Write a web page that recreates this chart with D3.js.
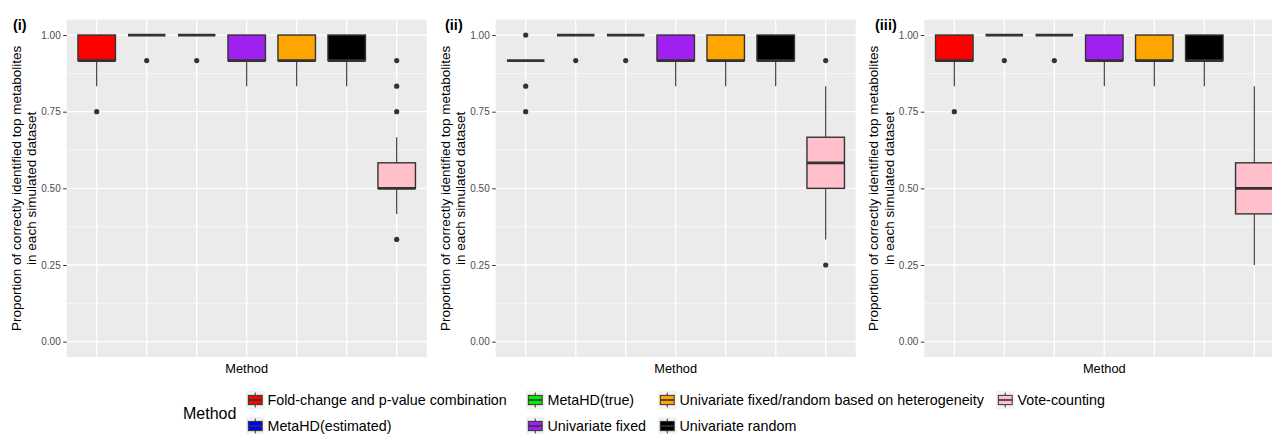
<!DOCTYPE html>
<html>
<head>
<meta charset="utf-8">
<script src="https://cdn.jsdelivr.net/npm/d3@7"></script>
<style>
  body { margin: 0; background: #fff; }
  svg { display: block; font-family: "Liberation Sans", Arial, sans-serif; }
</style>
</head>
<body>
<div id="wrapper"></div>
<script>
// methods in legend order
const methods = [
  "Fold-change and p-value combination",
  "MetaHD(estimated)",
  "MetaHD(true)",
  "Univariate fixed",
  "Univariate fixed/random based on heterogeneity",
  "Univariate random",
  "Vote-counting"
]
const methodColors = ["#FF0000", "#0000FF", "#00EE00", "#A020F0", "#FFA500", "#000000", "#FFC0CB"]

const panelLabels = ["(i)", "(ii)", "(iii)"]
const yTicks = [0, 0.25, 0.5, 0.75, 1]

// box stats per method: [lower whisker, q1, median, q3, upper whisker]
const statsI = [
  [0.8333, 0.9167, 0.9167, 1, 1],
  [1, 1, 1, 1, 1],
  [1, 1, 1, 1, 1],
  [0.8333, 0.9167, 0.9167, 1, 1],
  [0.8333, 0.9167, 0.9167, 1, 1],
  [0.8333, 0.9167, 0.9167, 1, 1],
  [0.4167, 0.5, 0.5, 0.5833, 0.6667]
]
const outliersI = [[0.75], [0.9167], [0.9167], [], [], [], [0.9167, 0.8333, 0.75, 0.3333]]

const statsII = [
  [0.9167, 0.9167, 0.9167, 0.9167, 0.9167],
  [1, 1, 1, 1, 1],
  [1, 1, 1, 1, 1],
  [0.8333, 0.9167, 0.9167, 1, 1],
  [0.8333, 0.9167, 0.9167, 1, 1],
  [0.8333, 0.9167, 0.9167, 1, 1],
  [0.3333, 0.5, 0.5833, 0.6667, 0.8333]
]
const outliersII = [[1, 0.8333, 0.75], [0.9167], [0.9167], [], [], [], [0.9167, 0.25]]

const statsIII = [
  [0.8333, 0.9167, 0.9167, 1, 1],
  [1, 1, 1, 1, 1],
  [1, 1, 1, 1, 1],
  [0.8333, 0.9167, 0.9167, 1, 1],
  [0.8333, 0.9167, 0.9167, 1, 1],
  [0.8333, 0.9167, 0.9167, 1, 1],
  [0.25, 0.4167, 0.5, 0.5833, 0.8333]
]
const outliersIII = [[0.75], [0.9167], [0.9167], [], [], [], []]

function drawChart() {
  const width = 1272, height = 434
  const svg = d3.select("#wrapper").append("svg")
    .attr("width", width)
    .attr("height", height)

  const panelLefts = [66.7, 495.7, 924.3]
  const labelX = [13, 445, 875]
  const panelW = 360
  const top = 19.7, bottom = 357

  const allStats = [statsI, statsII, statsIII]
  const allOutliers = [outliersI, outliersII, outliersIII]

  const colorScale = d3.scaleOrdinal().domain(methods).range(methodColors)
  const yScale = d3.scaleLinear().domain([-0.05, 1.05]).range([bottom, top])

  panelLabels.forEach((lab, p) => {
    const x0 = panelLefts[p], x1 = x0 + panelW
    const xScale = d3.scalePoint().domain(methods).range([x0, x1]).padding(0.6)
    const boxW = xScale.step() * 0.75
    const g = svg.append("g")

    //! panel background + grid
    g.append("rect")
      .attr("x", x0).attr("y", top)
      .attr("width", panelW).attr("height", bottom - top)
      .attr("fill", "#EBEBEB")
    const minor = d3.range(0.125, 1, 0.25)
    g.selectAll(".minor").data(minor).join("line")
      .attr("x1", x0).attr("x2", x1)
      .attr("y1", d => yScale(d)).attr("y2", d => yScale(d))
      .attr("stroke", "#fff").attr("stroke-width", 0.6)
    g.selectAll(".hmajor").data(yTicks).join("line")
      .attr("x1", x0).attr("x2", x1)
      .attr("y1", d => yScale(d)).attr("y2", d => yScale(d))
      .attr("stroke", "#fff").attr("stroke-width", 1.3)
    g.selectAll(".vmajor").data(methods).join("line")
      .attr("x1", d => xScale(d)).attr("x2", d => xScale(d))
      .attr("y1", top).attr("y2", bottom)
      .attr("stroke", "#fff").attr("stroke-width", 1.3)

    //! y axis
    const yAxis = d3.axisLeft(yScale).tickValues(yTicks)
      .tickFormat(d3.format(".2f")).tickSize(3.5).tickPadding(2.5)
    const ax = g.append("g").attr("transform", `translate(${x0},0)`).call(yAxis)
    ax.select(".domain").remove()
    ax.selectAll(".tick line").attr("stroke", "#333333").attr("stroke-width", 1)
    ax.selectAll(".tick text").attr("fill", "#4D4D4D").style("font-size", "10px")

    //! boxes
    const stats = allStats[p]
    const outs = allOutliers[p]
    methods.forEach((m, i) => {
      const [lo, q1, med, q3, hi] = stats[i]
      const cx = xScale(m)
      g.append("line")
        .attr("x1", cx).attr("x2", cx)
        .attr("y1", yScale(q1)).attr("y2", yScale(lo))
        .attr("stroke", "#333333").attr("stroke-width", 1.1)
      g.append("line")
        .attr("x1", cx).attr("x2", cx)
        .attr("y1", yScale(q3)).attr("y2", yScale(hi))
        .attr("stroke", "#333333").attr("stroke-width", 1.1)
      g.append("rect")
        .attr("x", cx - boxW / 2).attr("y", yScale(q3))
        .attr("width", boxW).attr("height", yScale(q1) - yScale(q3))
        .attr("fill", colorScale(m))
        .attr("stroke", "#333333").attr("stroke-width", 1.4)
      g.append("line")
        .attr("x1", cx - boxW / 2).attr("x2", cx + boxW / 2)
        .attr("y1", yScale(med)).attr("y2", yScale(med))
        .attr("stroke", "#333333").attr("stroke-width", 2.8)
      g.selectAll(null).data(outs[i]).join("circle")
        .attr("cx", cx).attr("cy", d => yScale(d))
        .attr("r", 2.6).attr("fill", "#333333")
    })

    //! titles
    g.append("text")
      .attr("x", (x0 + x1) / 2).attr("y", 373)
      .attr("text-anchor", "middle")
      .style("font-size", "12.8px")
      .text("Method")
    const cy = (top + bottom) / 2
    const ytitle = ["Proportion of correctly identified top metabolites", "in each simulated dataset"]
    ytitle.forEach((t, k) => {
      g.append("text")
        .attr("transform", `translate(${x0 - 46.2 + k * 15.5},${cy}) rotate(-90)`)
        .attr("text-anchor", "middle")
        .style("font-size", "13.5px")
        .text(t)
    })
    g.append("text")
      .attr("x", labelX[p]).attr("y", 30)
      .style("font-size", "14.5px").style("font-weight", "bold")
      .text(lab)
  })

  //! legend
  const leg = svg.append("g")
  leg.append("text").attr("x", 183).attr("y", 419)
    .style("font-size", "16px").text("Method")
  const colX = [246, 526, 658, 996]
  const rowY = [400, 426]
  const ks = 18.5
  methods.forEach((m, i) => {
    const c = Math.floor(i / 2), r = i % 2
    const kx = colX[c], ky = rowY[r] - ks / 2
    const k = leg.append("g").attr("transform", `translate(${kx},${ky})`)
    k.append("rect").attr("width", ks).attr("height", ks).attr("fill", "#F2F2F2")
    k.append("line").attr("x1", ks / 2).attr("x2", ks / 2)
      .attr("y1", ks * 0.1).attr("y2", ks * 0.9)
      .attr("stroke", "#333333").attr("stroke-width", 1)
    k.append("rect").attr("x", ks * 0.125).attr("y", ks * 0.25)
      .attr("width", ks * 0.75).attr("height", ks * 0.5)
      .attr("fill", colorScale(m)).attr("stroke", "#333333").attr("stroke-width", 1)
    k.append("line").attr("x1", ks * 0.125).attr("x2", ks * 0.875)
      .attr("y1", ks / 2).attr("y2", ks / 2)
      .attr("stroke", "#333333").attr("stroke-width", 1.6)
    leg.append("text").attr("x", kx + ks + 3).attr("y", rowY[r] + 5)
      .style("font-size", "14.3px").text(m)
  })
}

drawChart()
</script>
</body>
</html>
